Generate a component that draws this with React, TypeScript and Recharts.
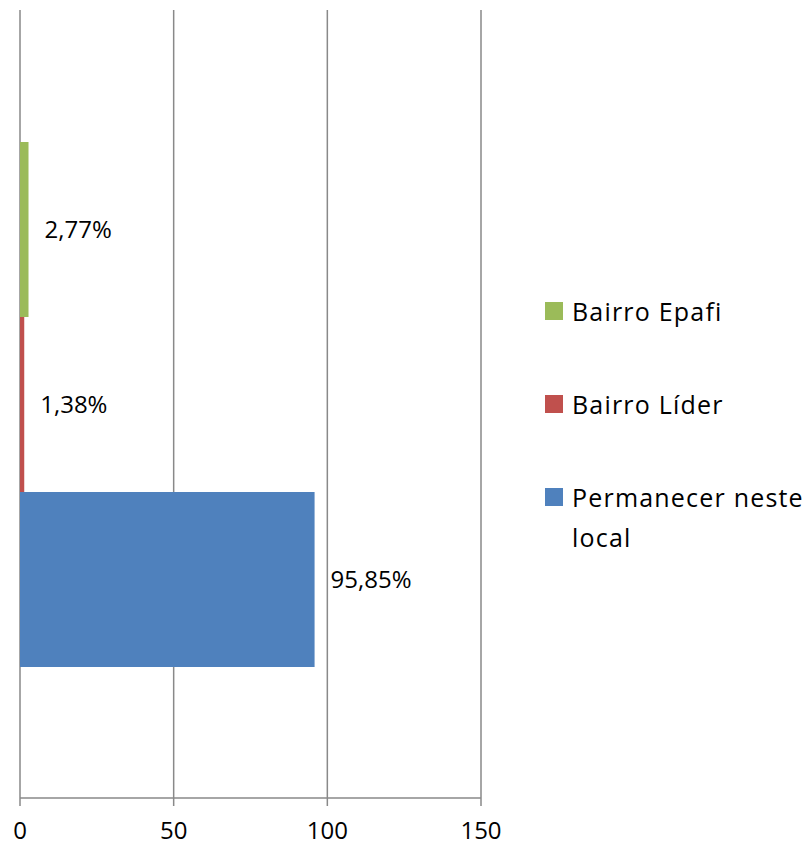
import { BarChart, Bar, XAxis, YAxis, CartesianGrid, LabelList } from 'recharts';

// one category, three series (Excel-style clustered horizontal bars)
const category = [''];
const seriesNames = ['Bairro Epafi', 'Bairro Líder', 'Permanecer neste local'];
const seriesKeys = ['epafi', 'lider', 'permanecer'];
const seriesValues = [2.77, 1.38, 95.85];
const seriesColors = ['#9BBB59', '#C0504D', '#4F81BD'];
const xTicks = [0, 50, 100, 150];

const data = category.map((name) => {
  const row: Record<string, string | number> = { name };
  seriesKeys.forEach((k, i) => {
    row[k] = seriesValues[i];
  });
  return row;
});

const FONT = '"Open Sans", sans-serif';
const GRID = '#898989';

const formatPct = (v: any) => `${Number(v).toFixed(2).replace('.', ',')}%`;

const App = () => {
  return (
    <div style={{ position: 'absolute', left: 0, top: 0, width: 810, height: 846, background: '#fff', fontFamily: FONT }}>
      <BarChart
        width={810}
        height={846}
        data={data}
        layout="vertical"
        margin={{ top: 10, right: 329, left: 20, bottom: 8 }}
        barCategoryGap={132}
        barGap={0}
      >
        <CartesianGrid horizontal={false} stroke={GRID} strokeWidth={1.5} />
        <XAxis
          type="number"
          domain={[0, 150]}
          ticks={xTicks}
          height={40}
          tickSize={8}
          tickMargin={16}
          axisLine={{ stroke: GRID, strokeWidth: 1.5 }}
          tickLine={{ stroke: GRID, strokeWidth: 1.5 }}
          tick={{ fill: '#000', fontSize: 24, fontFamily: FONT }}
        />
        <YAxis
          type="category"
          dataKey="name"
          width={0}
          tick={false}
          tickLine={false}
          axisLine={{ stroke: GRID, strokeWidth: 1.5 }}
        />
        {seriesKeys.map((k, i) => (
          <Bar key={k} dataKey={k} name={seriesNames[i]} fill={seriesColors[i]} isAnimationActive={false}>
            <LabelList
              dataKey={k}
              position="right"
              offset={16}
              formatter={formatPct}
              style={{ fill: '#000', fontSize: 24, fontFamily: FONT }}
            />
          </Bar>
        ))}
      </BarChart>

      {/* Legend */}
      {seriesNames.map((n, i) => (
        <div
          key={n}
          style={{ position: 'absolute', left: 545, top: 291 + i * 93, width: 265, height: 80 }}
        >
          <div
            style={{
              position: 'absolute',
              left: 0,
              top: 11,
              width: 18,
              height: 18,
              background: seriesColors[i],
            }}
          />
          <div
            style={{
              position: 'absolute',
              left: 27,
              top: 0,
              width: 238,
              fontSize: 25,
              lineHeight: '40px',
              letterSpacing: 1.2,
              color: '#000',
              fontFamily: FONT,
            }}
          >
            {n}
          </div>
        </div>
      ))}
    </div>
  );
};

export default App;
